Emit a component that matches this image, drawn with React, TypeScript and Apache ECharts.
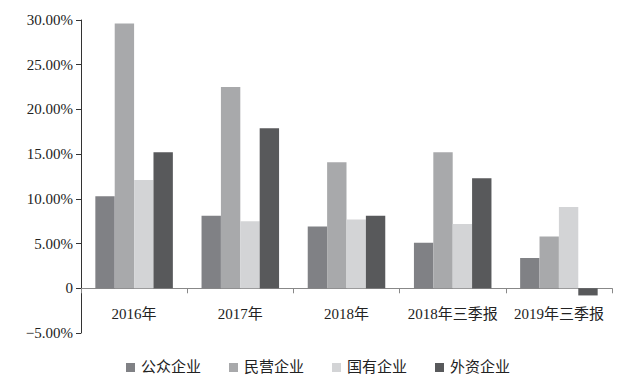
import React, { useEffect, useRef } from "react";
import * as echarts from "echarts";

const categories = ["2016年", "2017年", "2018年", "2018年三季报", "2019年三季报"];
const seriesNames = ["公众企业", "民营企业", "国有企业", "外资企业"];
const publicCo = [10.3, 8.1, 6.9, 5.1, 3.4];
const privateCo = [29.6, 22.5, 14.1, 15.2, 5.8];
const stateCo = [12.1, 7.5, 7.7, 7.2, 9.1];
const foreignCo = [15.2, 17.9, 8.1, 12.3, -0.8];
const colors = ["#808185", "#a8a9ab", "#d3d4d6", "#58595b"];

const FONT = "Liberation Serif, Times New Roman, DejaVu Serif, Noto Sans CJK SC, serif";

export default function App() {
  const ref = useRef<HTMLDivElement>(null);
  useEffect(() => {
    if (!ref.current) return;
    const chart = echarts.init(ref.current, undefined, { renderer: "svg" });
    const values = [publicCo, privateCo, stateCo, foreignCo];
    chart.setOption({
      animation: false,
      color: colors,
      textStyle: { fontFamily: FONT },
      grid: { left: 81, right: 11, top: 20, bottom: 58, containLabel: false },
      legend: {
        bottom: 11,
        left: 121,
        itemWidth: 9,
        itemHeight: 9,
        itemGap: 28,
        icon: "rect",
        textStyle: { fontFamily: FONT, fontSize: 15, color: "#222", padding: [0, 0, 0, 1] },
        data: seriesNames,
      },
      xAxis: {
        type: "category",
        data: categories,
        axisLine: { onZero: true, lineStyle: { color: "#888", width: 1 } },
        axisTick: { show: true, length: 5, alignWithLabel: false, lineStyle: { color: "#888" } },
        axisLabel: { margin: -27, fontSize: 15, color: "#222", fontFamily: FONT, interval: 0 },
      },
      yAxis: {
        type: "value",
        min: -5,
        max: 30,
        interval: 5,
        splitLine: { show: false },
        axisLine: { show: true, lineStyle: { color: "#333", width: 1 } },
        axisTick: { show: true, length: 5, lineStyle: { color: "#333" } },
        axisLabel: {
          margin: 8,
          fontSize: 15,
          color: "#222",
          fontFamily: FONT,
          formatter: (v: number) => (v === 0 ? "0" : (v < 0 ? "−" + Math.abs(v).toFixed(2) : v.toFixed(2)) + "%"),
        },
      },
      series: seriesNames.map((name, i) => ({
        name,
        type: "bar",
        data: values[i],
        barGap: "0%",
        barCategoryGap: "27%",
        itemStyle: { color: colors[i] },
      })),
    });
    return () => chart.dispose();
  }, []);
  return <div ref={ref} style={{ width: 623, height: 391, position: "absolute", left: 0, top: 0 }} />;
}
